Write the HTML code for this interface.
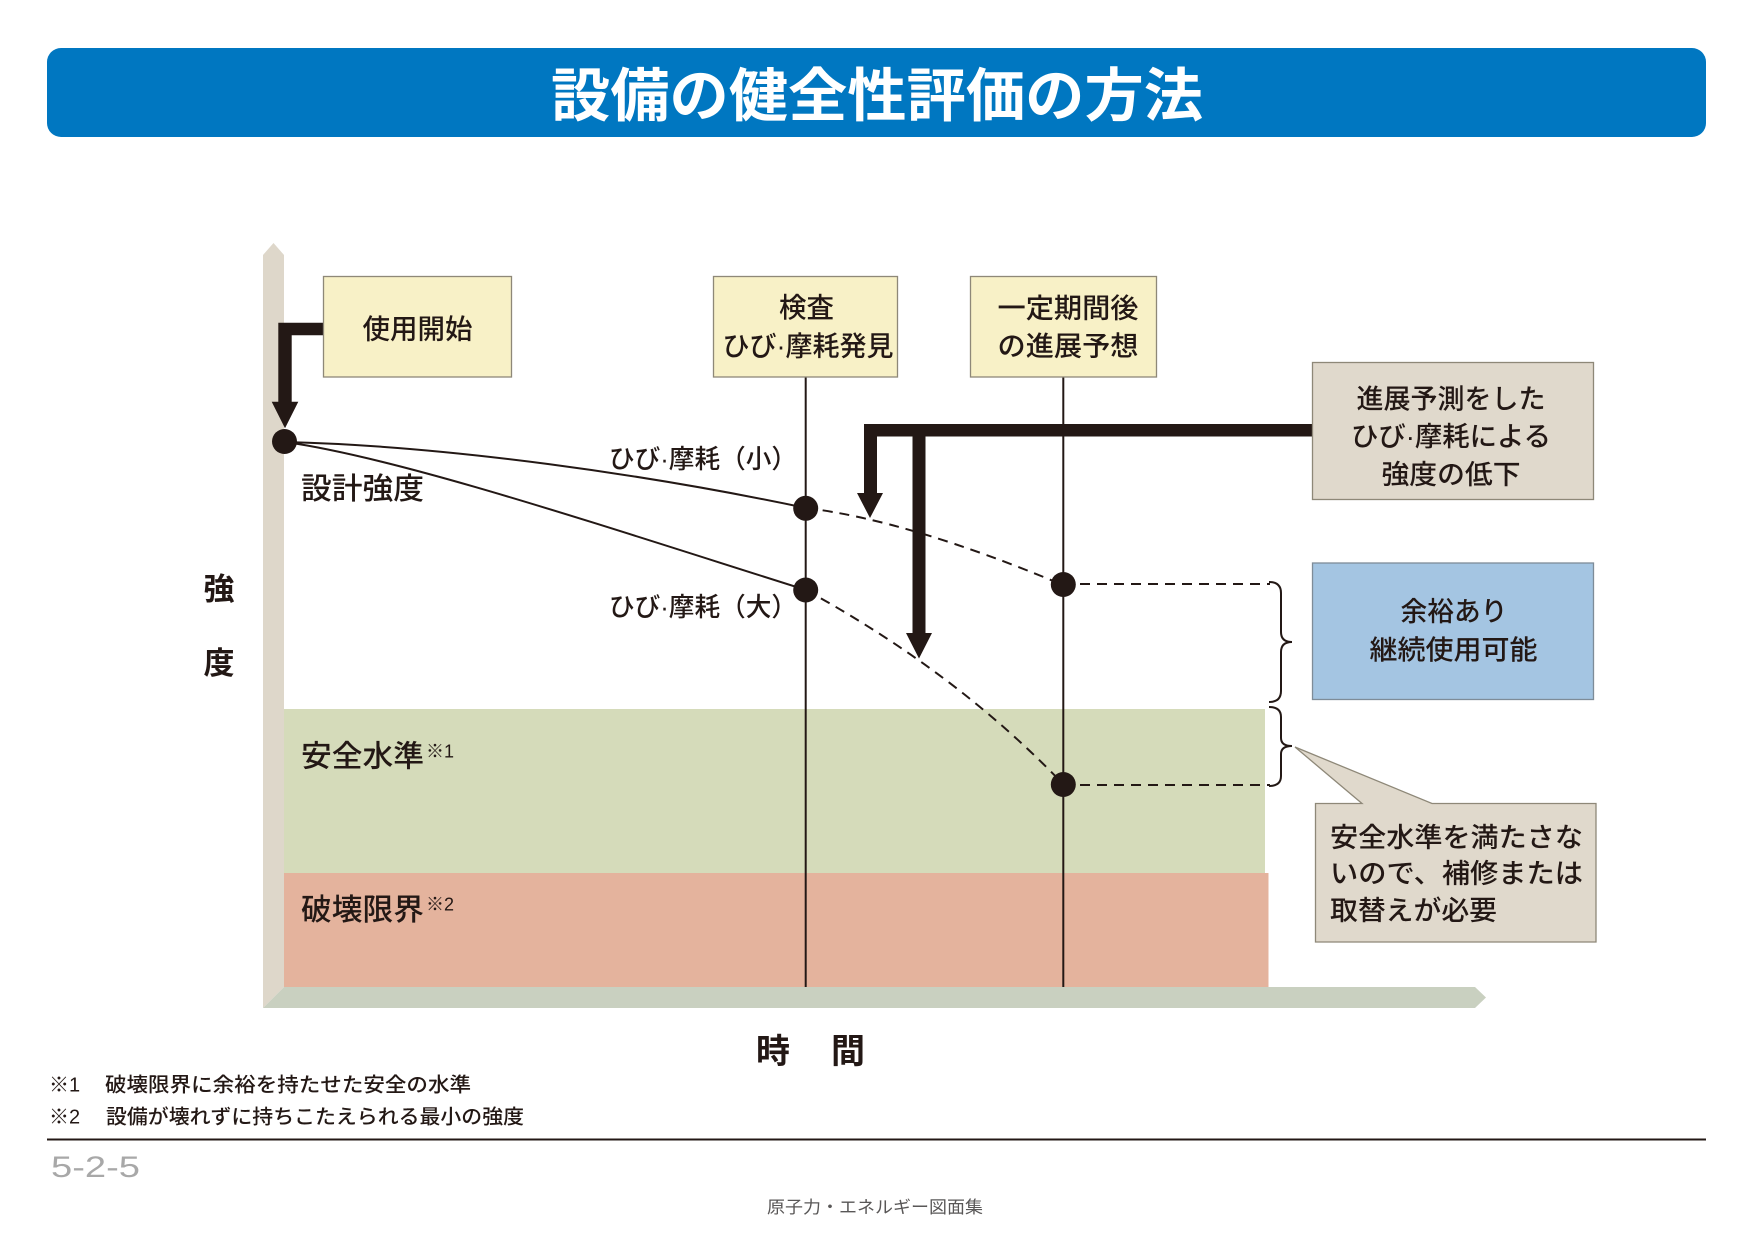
<!DOCTYPE html>
<html lang="ja">
<head>
<meta charset="utf-8">
<title>設備の健全性評価の方法</title>
<style>
html,body{margin:0;padding:0;background:#fff;width:1754px;height:1240px;overflow:hidden}
svg{display:block}
text{font-family:"Liberation Sans","Noto Sans CJK JP",sans-serif;fill:#231815;font-weight:500}
.b{font-weight:700}
</style>
</head>
<body>
<svg width="1754" height="1240" viewBox="0 0 1754 1240" xmlns="http://www.w3.org/2000/svg">
<rect x="0" y="0" width="1754" height="1240" fill="#ffffff"/>

<!-- Title bar -->
<rect x="47" y="48" width="1659" height="89" rx="14" ry="14" fill="#0077C1"/>
<text x="877" y="116" font-size="58" class="b" text-anchor="middle" textLength="652" lengthAdjust="spacingAndGlyphs" style="fill:#ffffff">設備の健全性評価の方法</text>

<!-- Bands -->
<rect x="284" y="709" width="981" height="164.5" fill="#D5DBBA"/>
<rect x="284" y="873" width="984.5" height="114" fill="#E4B39D"/>

<!-- Axes -->
<polygon points="263,255 273.5,243 284,255 284,987 263,1008" fill="#DED7CA"/>
<polygon points="263,1008 284,987 1475,987 1486,997.5 1475,1008" fill="#C9D0C0"/>

<!-- Vertical time lines -->
<line x1="805.7" y1="377" x2="805.7" y2="987" stroke="#231815" stroke-width="2"/>
<line x1="1063.3" y1="377" x2="1063.3" y2="987" stroke="#231815" stroke-width="2"/>

<!-- Solid curves -->
<path d="M285,442 C450,446 650,475 806,508" fill="none" stroke="#231815" stroke-width="2"/>
<path d="M285,442 C400,458 600,525 806,590" fill="none" stroke="#231815" stroke-width="2"/>

<!-- Dashed predictions -->
<path d="M806,508 Q909,520.5 1063,585" fill="none" stroke="#231815" stroke-width="2" stroke-dasharray="10 7"/>
<path d="M806,590 Q957,673 1063,784" fill="none" stroke="#231815" stroke-width="2" stroke-dasharray="10 7"/>
<path d="M1063,584 H1270" fill="none" stroke="#231815" stroke-width="2" stroke-dasharray="10 7"/>
<path d="M1063,785 H1270" fill="none" stroke="#231815" stroke-width="2" stroke-dasharray="10 7"/>

<!-- Braces -->
<path d="M1269,582 Q1281,582 1281,593 L1281,632 Q1281,642 1292,642 Q1281,642 1281,652 L1281,691 Q1281,702 1269,702" fill="none" stroke="#231815" stroke-width="2"/>
<path d="M1269,707 Q1281,707 1281,717 L1281,738 Q1281,746 1292,746 Q1281,746 1281,754 L1281,776 Q1281,786 1269,786" fill="none" stroke="#231815" stroke-width="2"/>

<!-- Dots -->
<g fill="#231815">
<circle cx="284.5" cy="441.5" r="12.5"/>
<circle cx="805.7" cy="508.3" r="12.5"/>
<circle cx="805.7" cy="590" r="12.5"/>
<circle cx="1063.3" cy="584.5" r="12.5"/>
<circle cx="1063.3" cy="784.5" r="12.5"/>
</g>

<!-- Thick arrows -->
<polygon fill="#231815" points="324,322.7 278.3,322.7 278.3,401.7 271.7,401.7 285,428.3 298.3,401.7 291.7,401.7 291.7,335.3 324,335.3"/>
<polygon fill="#231815" points="1313,424 864,424 864,493 857,493 870,518 883,493 877,493 877,436.5 912.5,436.5 912.5,633 906,633 919,658.5 932,633 925.5,633 925.5,436.5 1313,436.5"/>

<!-- Boxes -->
<rect x="323.5" y="276.5" width="188" height="100.5" fill="#F8F1C7" stroke="#8E8878" stroke-width="1.3"/>
<rect x="713.5" y="276.5" width="184" height="100.5" fill="#F8F1C7" stroke="#8E8878" stroke-width="1.3"/>
<rect x="970.5" y="276.5" width="186" height="100.5" fill="#F8F1C7" stroke="#8E8878" stroke-width="1.3"/>
<rect x="1312.5" y="362.5" width="281" height="137" fill="#E0D9CC" stroke="#8E8878" stroke-width="1.3"/>
<rect x="1312.5" y="563" width="281" height="136.5" fill="#A4C5E2" stroke="#7E8C98" stroke-width="1.3"/>
<path d="M1315.5,803.5 H1362 L1295,747 L1432,803.5 H1596 V942 H1315.5 Z" fill="#E0D9CC" stroke="#8E8878" stroke-width="1.3"/>

<!-- Box texts -->
<text x="417.5" y="338.5" font-size="27.5" text-anchor="middle" textLength="110" lengthAdjust="spacingAndGlyphs">使用開始</text>
<text x="806.5" y="317" font-size="27.5" text-anchor="middle" textLength="55" lengthAdjust="spacingAndGlyphs">検査</text>
<text x="808" y="355.5" font-size="27.5" text-anchor="middle" textLength="171" lengthAdjust="spacingAndGlyphs">ひび·摩耗発見</text>
<text x="1068" y="317.5" font-size="27.5" text-anchor="middle" textLength="141" lengthAdjust="spacingAndGlyphs">一定期間後</text>
<text x="1068" y="355.5" font-size="27.5" text-anchor="middle" textLength="141" lengthAdjust="spacingAndGlyphs">の進展予想</text>

<text x="1451" y="408.5" font-size="27" text-anchor="middle" textLength="189" lengthAdjust="spacingAndGlyphs">進展予測をした</text>
<text x="1451" y="446" font-size="27" text-anchor="middle" textLength="200" lengthAdjust="spacingAndGlyphs">ひび·摩耗による</text>
<text x="1451" y="484" font-size="27" text-anchor="middle" textLength="139" lengthAdjust="spacingAndGlyphs">強度の低下</text>

<text x="1454" y="621" font-size="27" text-anchor="middle" textLength="107" lengthAdjust="spacingAndGlyphs">余裕あり</text>
<text x="1453.5" y="659.5" font-size="27" text-anchor="middle" textLength="168" lengthAdjust="spacingAndGlyphs">継続使用可能</text>

<text x="1330" y="847" font-size="27" textLength="253" lengthAdjust="spacingAndGlyphs">安全水準を満たさな</text>
<text x="1330" y="883" font-size="27" textLength="253" lengthAdjust="spacingAndGlyphs">いので、補修または</text>
<text x="1330" y="920" font-size="27" textLength="167" lengthAdjust="spacingAndGlyphs">取替えが必要</text>

<!-- Chart labels -->
<text x="301" y="499" font-size="30" textLength="123" lengthAdjust="spacingAndGlyphs">設計強度</text>
<text x="609" y="468" font-size="26" textLength="188" lengthAdjust="spacingAndGlyphs">ひび·摩耗（小）</text>
<text x="609" y="616" font-size="26" textLength="188" lengthAdjust="spacingAndGlyphs">ひび·摩耗（大）</text>

<text x="301" y="766.5" font-size="30" textLength="123" lengthAdjust="spacingAndGlyphs">安全水準</text>
<text x="426" y="757.5" font-size="18">※1</text>
<text x="301" y="920" font-size="30" textLength="123" lengthAdjust="spacingAndGlyphs">破壊限界</text>
<text x="426" y="910.5" font-size="18">※2</text>

<!-- Axis labels -->
<text x="219" y="600" font-size="31" class="b" text-anchor="middle">強</text>
<text x="219" y="674" font-size="31" class="b" text-anchor="middle">度</text>
<text x="756" y="1063" font-size="34" class="b">時</text>
<text x="831" y="1063" font-size="34" class="b">間</text>

<!-- Footnotes -->
<text x="49" y="1091.5" font-size="20">※1</text>
<text x="105" y="1091.5" font-size="20" textLength="366" lengthAdjust="spacingAndGlyphs">破壊限界に余裕を持たせた安全の水準</text>
<text x="49" y="1123.5" font-size="20">※2</text>
<text x="106" y="1123.5" font-size="20" textLength="418" lengthAdjust="spacingAndGlyphs">設備が壊れずに持ちこたえられる最小の強度</text>

<!-- Footer -->
<line x1="47" y1="1139.5" x2="1706" y2="1139.5" stroke="#231815" stroke-width="2"/>
<text x="51" y="1177" font-size="30" textLength="89" lengthAdjust="spacingAndGlyphs" style="fill:#A8A8A8;font-weight:400">5-2-5</text>
<text x="875" y="1213" font-size="17" text-anchor="middle" textLength="216" lengthAdjust="spacingAndGlyphs" style="fill:#595757;font-weight:400">原子力・エネルギー図面集</text>
</svg>
</body>
</html>
